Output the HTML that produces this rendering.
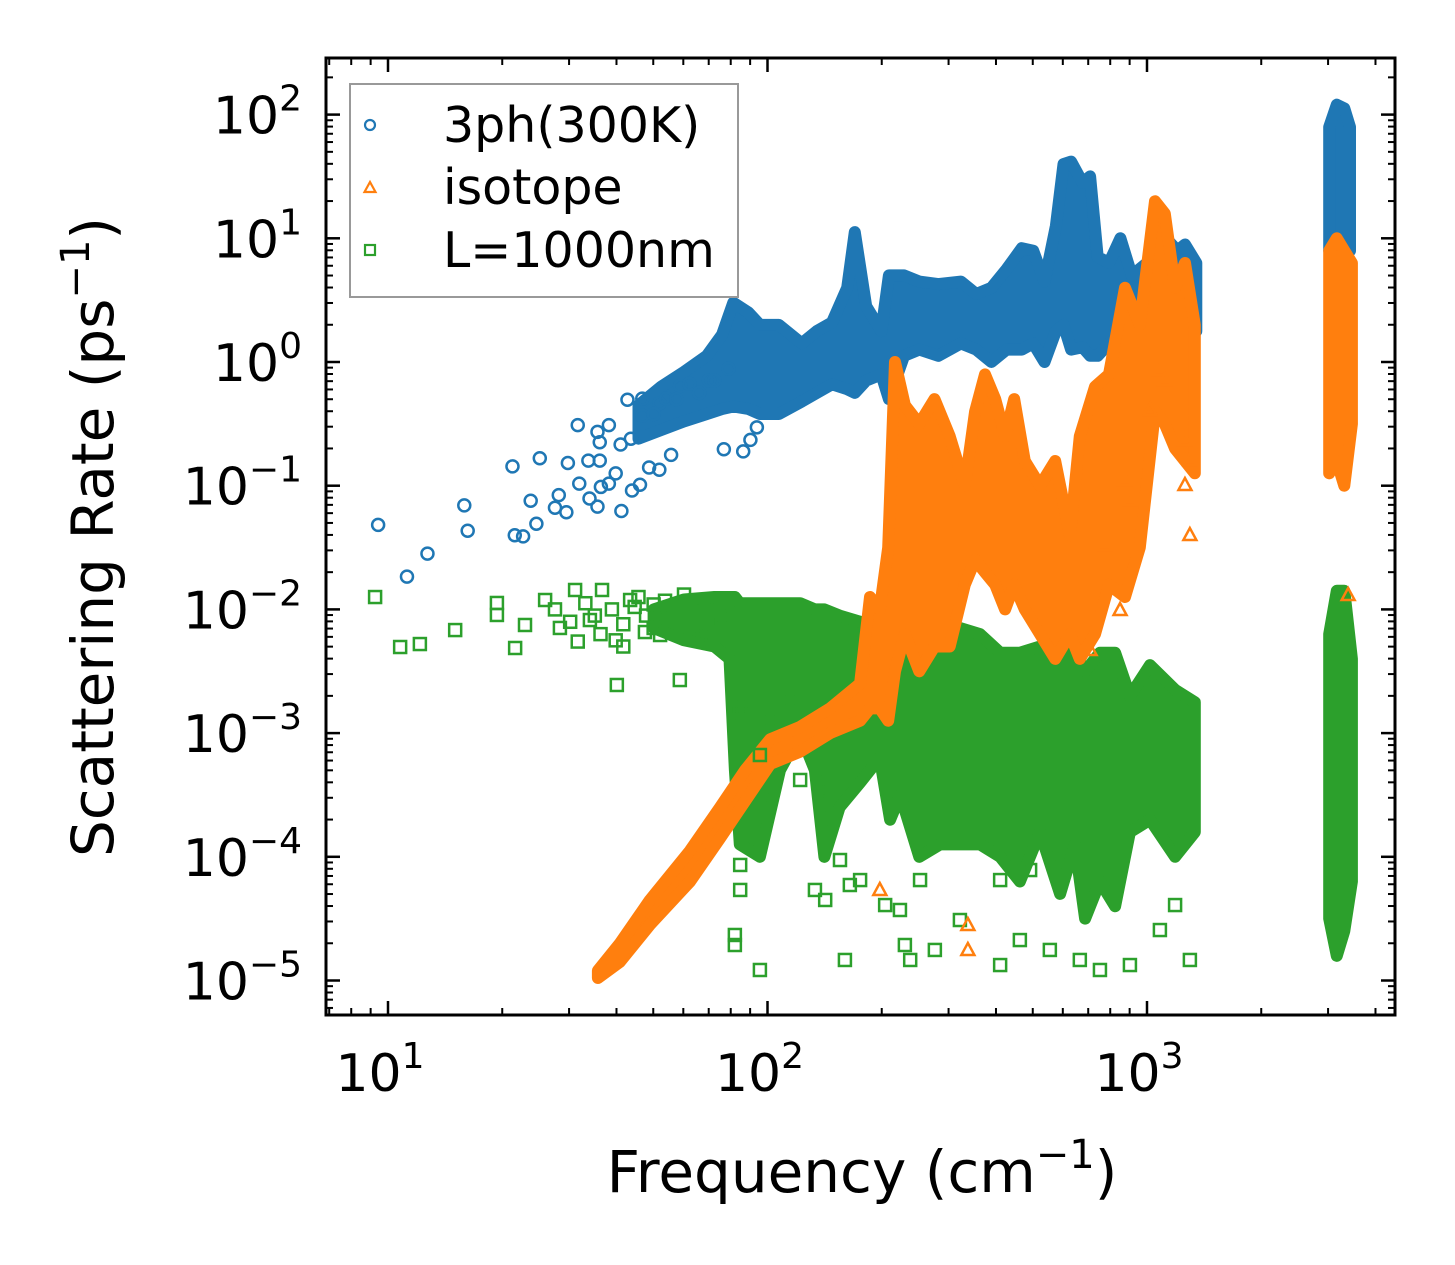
<!DOCTYPE html>
<html><head><meta charset="utf-8">
<style>
html,body{margin:0;padding:0;background:#fff;}
svg{display:block;font-family:"DejaVu Sans","Liberation Sans",sans-serif;}
</style></head>
<body>
<svg id="chart" width="1455" height="1265" viewBox="0 0 1455 1265" xmlns="http://www.w3.org/2000/svg">
<rect x="0" y="0" width="1455" height="1265" fill="#fff"/>
<defs><clipPath id="plotclip"><rect x="326" y="58" width="1069" height="957"/></clipPath></defs>
<g id="bands" clip-path="url(#plotclip)"></g>
<g id="points" clip-path="url(#plotclip)"></g>
<g id="axes"></g>
<g id="legend">
  <rect x="350" y="84" width="388" height="213" fill="#fff" fill-opacity="0.8" stroke="#999" stroke-width="2"/>
  <circle cx="370" cy="125" r="5" fill="none" stroke="#1f77b4" stroke-width="2.2"/>
  <text x="443" y="142" font-size="49" fill="#000">3ph(300K)</text>
  <polygon points="370,182 375.5,192 364.5,192" fill="none" stroke="#ff7f0e" stroke-width="2.2"/>
  <text x="443" y="204" font-size="49" fill="#000">isotope</text>
  <rect x="365" y="245" width="10" height="10" fill="none" stroke="#2ca02c" stroke-width="2.2"/>
  <text x="443" y="267" font-size="49" fill="#000">L=1000nm</text>
</g>
<text x="862" y="1192" font-size="58" text-anchor="middle" fill="#000">Frequency (cm<tspan font-size="40" dy="-24">−1</tspan><tspan dy="24">)</tspan></text>
<text transform="translate(113,537) rotate(-90)" font-size="58" text-anchor="middle" fill="#000">Scattering Rate (ps<tspan font-size="40" dy="-24">−1</tspan><tspan dy="24">)</tspan></text>
</svg>
<script>
// ---- data (log10 of frequency in cm^-1, log10 of rate in ps^-1) ----
const xTickExps = [1, 2, 3];
const yTickExps = [2, 1, 0, -1, -2, -3, -4, -5];
// 3-phonon scattered points
const blueLogFreq = [0.974,1.050,1.104,1.201,1.210,1.328,1.400,1.334,1.356,1.391,1.376,1.450,1.440,1.470,1.474,1.500,1.504,1.528,1.558,1.552,1.582,1.558,1.561,1.582,1.531,1.552,1.613,1.631,1.670,1.615,1.643,1.664,1.670,1.715,1.733,1.770,1.794,1.688,1.715,1.746,1.885,1.936,1.955,1.972,1.846,1.897,1.600,1.640,1.700,1.760,1.820,1.860];
const blueLogRate = [-1.317,-1.735,-1.549,-1.159,-1.364,-0.844,-0.778,-1.401,-1.410,-1.308,-1.122,-1.076,-1.178,-1.215,-0.816,-0.510,-0.983,-0.797,-0.797,-0.565,-0.510,-0.649,-1.010,-0.983,-1.103,-1.169,-0.667,-0.305,-0.296,-1.205,-1.039,-0.992,-0.435,-0.333,-0.296,-0.194,-0.176,-0.853,-0.871,-0.751,-0.705,-0.723,-0.630,-0.528,-0.148,-0.055,-0.900,-0.620,-0.420,-0.300,-0.250,-0.150];
// 3-phonon dense bands: [logFreq, logRateLow, logRateHigh]
const blueBandMain = [[1.66,-0.62,-0.35],[1.72,-0.55,-0.20],[1.78,-0.48,-0.08],[1.84,-0.42,0.05],[1.88,-0.38,0.22],[1.91,-0.36,0.48],[1.95,-0.38,0.40],[1.98,-0.42,0.30],[2.03,-0.42,0.30],[2.09,-0.32,0.15],[2.13,-0.25,0.25],[2.17,-0.18,0.32],[2.21,-0.22,0.60],[2.23,-0.25,1.05],[2.26,-0.15,0.45],[2.30,-0.10,0.25],[2.32,-0.30,0.70],[2.36,0.05,0.70],[2.40,0.10,0.65],[2.45,0.05,0.63],[2.51,0.15,0.65],[2.55,0.10,0.55],[2.59,0.0,0.60],[2.63,0.10,0.75],[2.67,0.10,0.92],[2.70,0.15,0.90],[2.73,0.0,0.65],[2.76,0.25,1.10],[2.78,0.30,1.60],[2.80,0.10,1.62],[2.83,0.12,1.45],[2.85,0.05,1.50],[2.87,0.05,0.85],[2.90,0.15,0.80],[2.93,0.20,1.0],[2.96,0.35,0.70],[3.00,0.30,0.80],[3.03,0.45,0.90],[3.05,0.45,1.0],[3.08,0.30,0.90],[3.10,0.20,0.95],[3.13,0.25,0.80]];
const blueBandHigh = [[3.48,0.9,1.9],[3.50,0.95,2.08],[3.52,1.0,2.05],[3.535,0.9,1.9]];
// isotope
const orangeLogFreq = [3.034,3.047,3.008,3.100,3.113,3.100,3.113,2.942,2.955,2.889,2.929,2.850,2.528,2.528,2.296,3.530];
const orangeLogRate = [-0.065,-0.146,-0.388,-0.631,-0.792,-0.994,-1.399,-0.954,-1.116,-1.479,-2.005,-2.328,-4.551,-4.753,-4.268,-1.884];
const orangeBandMain = [[1.553,-4.98,-4.92],[1.611,-4.85,-4.70],[1.69,-4.55,-4.35],[1.796,-4.2,-3.95],[1.875,-3.85,-3.6],[1.941,-3.55,-3.3],[2.007,-3.25,-3.05],[2.086,-3.15,-2.95],[2.165,-3.0,-2.8],[2.244,-2.9,-2.6],[2.27,-2.8,-1.9],[2.296,-2.8,-2.0],[2.318,-2.9,-1.5],[2.336,-2.5,0.0],[2.362,-2.2,-0.35],[2.40,-2.5,-0.5],[2.44,-2.3,-0.3],[2.48,-2.3,-0.6],[2.52,-1.8,-1.0],[2.547,-1.6,-0.4],[2.573,-1.7,-0.1],[2.60,-1.8,-0.3],[2.626,-2.0,-0.6],[2.65,-1.8,-0.3],[2.678,-2.0,-0.8],[2.718,-2.2,-1.0],[2.758,-2.4,-0.8],[2.797,-2.2,-1.4],[2.823,-2.4,-0.6],[2.863,-2.2,-0.2],[2.90,-1.8,-0.1],[2.942,-1.9,0.6],[2.981,-1.5,0.3],[3.021,-0.4,1.3],[3.047,-0.5,1.2],[3.074,-0.7,0.6],[3.10,-0.8,0.8],[3.126,-0.9,0.3]];
const orangeBandHigh = [[3.48,-0.9,0.9],[3.50,-0.8,1.0],[3.52,-1.0,0.9],[3.54,-0.5,0.8]];
// boundary
const greenLogFreq = [0.966,1.032,1.084,1.177,1.287,1.287,1.335,1.361,1.414,1.453,1.493,1.532,1.564,1.603,1.638,1.677,1.717,1.769,1.822,1.928,1.928,1.980,2.007,2.059,1.980,1.914,1.914,1.928,1.928,2.125,2.152,2.086,2.217,2.204,2.244,2.310,2.349,2.362,2.376,2.402,2.441,2.507,2.613,2.665,2.744,2.823,2.876,2.955,3.113,3.034,3.074,2.613,2.692,2.138,2.191,1.440,1.480,1.520,1.560,1.590,1.620,1.650,1.680,1.700,1.730,1.600,1.660,1.700,1.740,1.780,1.800,1.840,1.870,1.880,1.500,1.545,1.620];
const greenLogRate = [-1.900,-2.304,-2.280,-2.167,-1.948,-2.045,-2.312,-2.126,-1.924,-2.150,-1.843,-2.086,-1.843,-2.611,-1.924,-2.183,-2.207,-2.571,-2.223,-2.773,-2.854,-3.177,-2.894,-2.732,-4.915,-4.632,-4.713,-4.066,-4.268,-4.268,-4.349,-3.379,-4.228,-4.834,-4.188,-4.390,-4.430,-4.713,-4.834,-4.188,-4.753,-4.511,-4.875,-4.673,-4.753,-4.834,-4.915,-4.875,-4.834,-4.592,-4.390,-4.188,-4.107,-3.460,-4.026,-2.000,-2.100,-1.950,-2.200,-2.000,-2.120,-1.980,-2.050,-2.150,-1.930,-2.250,-1.900,-1.960,-2.080,-1.880,-2.020,-2.130,-1.950,-2.060,-2.260,-2.050,-2.300];
const greenBandMain = [[1.70,-2.15,-2.0],[1.78,-2.25,-1.92],[1.86,-2.3,-1.9],[1.90,-2.4,-1.9],[1.914,-3.3,-1.9],[1.927,-3.9,-1.95],[1.98,-4.0,-1.95],[2.033,-3.3,-1.95],[2.086,-3.0,-1.95],[2.125,-3.3,-2.0],[2.15,-4.0,-2.0],[2.19,-3.6,-2.05],[2.244,-3.4,-2.1],[2.296,-3.2,-2.2],[2.323,-3.7,-2.6],[2.35,-3.5,-2.2],[2.40,-4.0,-2.3],[2.455,-3.9,-2.2],[2.507,-3.9,-2.15],[2.56,-3.9,-2.2],[2.613,-4.0,-2.35],[2.665,-4.2,-2.35],[2.718,-3.8,-2.3],[2.771,-4.3,-2.3],[2.81,-3.9,-2.35],[2.837,-4.5,-2.5],[2.876,-4.2,-2.35],[2.916,-4.4,-2.35],[2.955,-3.8,-2.7],[3.008,-3.7,-2.45],[3.074,-4.0,-2.65],[3.126,-3.8,-2.75]];
const greenBandHigh = [[3.48,-4.5,-2.2],[3.50,-4.8,-1.85],[3.52,-4.6,-1.85],[3.54,-4.2,-2.4]];

// ---- scales ----
const X0 = 326, X1 = 1395, Y0 = 58, Y1 = 1015;
const xDec = 379.5, yDec = 123.7;
function sx(lf){ return 388 + (lf - 1) * xDec; }
function sy(lr){ return 362 - lr * yDec; }
const NS = 'http://www.w3.org/2000/svg';
function mk(tag){ return document.createElementNS(NS, tag); }

const colors = {blue:'#1f77b4', orange:'#ff7f0e', green:'#2ca02c'};
const bandsG = document.getElementById('bands');
const ptsG = document.getElementById('points');
const axG = document.getElementById('axes');

function drawBand(band, color, name){
  const up = band.map(d => sx(d[0]).toFixed(1) + ',' + sy(d[2]).toFixed(1));
  const dn = band.slice().reverse().map(d => sx(d[0]).toFixed(1) + ',' + sy(d[1]).toFixed(1));
  const p = mk('polygon');
  p.setAttribute('points', up.concat(dn).join(' '));
  p.setAttribute('fill', color);
  p.setAttribute('stroke', color);
  p.setAttribute('stroke-width', '12');
  p.setAttribute('stroke-linejoin', 'round');
  
  
  bandsG.appendChild(p);
}
drawBand(greenBandMain, colors.green, 'boundary-band');
drawBand(blueBandMain, colors.blue, '3ph-band');
drawBand(orangeBandMain, colors.orange, 'isotope-band');
drawBand(blueBandHigh, colors.blue, '3ph-band-high');
drawBand(orangeBandHigh, colors.orange, 'isotope-band-high');
drawBand(greenBandHigh, colors.green, 'boundary-band-high');

function drawPoints(fx, fy, kind, color){
  for (let i = 0; i < fx.length; i++){
    const x = sx(fx[i]), y = sy(fy[i]);
    let el;
    if (kind === 'circle'){
      el = mk('circle'); el.setAttribute('cx', x); el.setAttribute('cy', y); el.setAttribute('r', 6);
    } else if (kind === 'tri'){
      el = mk('polygon');
      el.setAttribute('points', `${x},${y-7} ${x+6.5},${y+5} ${x-6.5},${y+5}`);
    } else {
      el = mk('rect'); el.setAttribute('x', x-6); el.setAttribute('y', y-6);
      el.setAttribute('width', 12); el.setAttribute('height', 12);
    }
    el.setAttribute('fill', 'none');
    el.setAttribute('stroke', color);
    el.setAttribute('stroke-width', '2.5');
    
    
    ptsG.appendChild(el);
  }
}
drawPoints(greenLogFreq, greenLogRate, 'square', colors.green);
drawPoints(blueLogFreq, blueLogRate, 'circle', colors.blue);
drawPoints(orangeLogFreq, orangeLogRate, 'tri', colors.orange);

// ---- axes ----
function line(x1,y1,x2,y2,w,name){
  const l = mk('line');
  l.setAttribute('x1',x1); l.setAttribute('y1',y1); l.setAttribute('x2',x2); l.setAttribute('y2',y2);
  l.setAttribute('stroke','#000'); l.setAttribute('stroke-width',w);
  
  
  axG.appendChild(l);
}
const frame = mk('rect');
frame.setAttribute('x', X0); frame.setAttribute('y', Y0);
frame.setAttribute('width', X1-X0); frame.setAttribute('height', Y1-Y0);
frame.setAttribute('fill','none'); frame.setAttribute('stroke','#000'); frame.setAttribute('stroke-width','3');


axG.appendChild(frame);

for (let e = 0; e <= 3; e++){
  for (let m = 1; m <= 9; m++){
    const x = sx(e + Math.log10(m));
    if (x < X0 + 1 || x > X1 - 1) continue;
    const len = m === 1 ? 14 : 7, w = m === 1 ? 2.5 : 2;
    line(x, Y1, x, Y1-len, w, 'x-tick');
    line(x, Y0, x, Y0+len, w, 'x-tick-top');
  }
}
xTickExps.forEach(e => {
  const t = mk('text');
  t.setAttribute('x', sx(e) - 8); t.setAttribute('y', 1091);
  t.setAttribute('font-size', '52'); t.setAttribute('text-anchor', 'middle');
  t.innerHTML = '10<tspan font-size="36" dy="-23">' + e + '</tspan>';
  
  
  axG.appendChild(t);
});
for (let e = -6; e <= 2; e++){
  for (let m = 1; m <= 9; m++){
    const y = sy(e + Math.log10(m));
    if (y < Y0 + 1 || y > Y1 - 1) continue;
    const len = m === 1 ? 14 : 7, w = m === 1 ? 2.5 : 2;
    line(X0, y, X0+len, y, w, 'y-tick');
    line(X1, y, X1-len, y, w, 'y-tick-right');
  }
}
yTickExps.forEach(e => {
  const t = mk('text');
  t.setAttribute('x', 302); t.setAttribute('y', sy(e) + 19);
  t.setAttribute('font-size', '52'); t.setAttribute('text-anchor', 'end');
  t.innerHTML = '10<tspan font-size="36" dy="-23">' + (e < 0 ? '−' + (-e) : String(e)) + '</tspan>';
  
  
  axG.appendChild(t);
});
</script>
</body></html>
